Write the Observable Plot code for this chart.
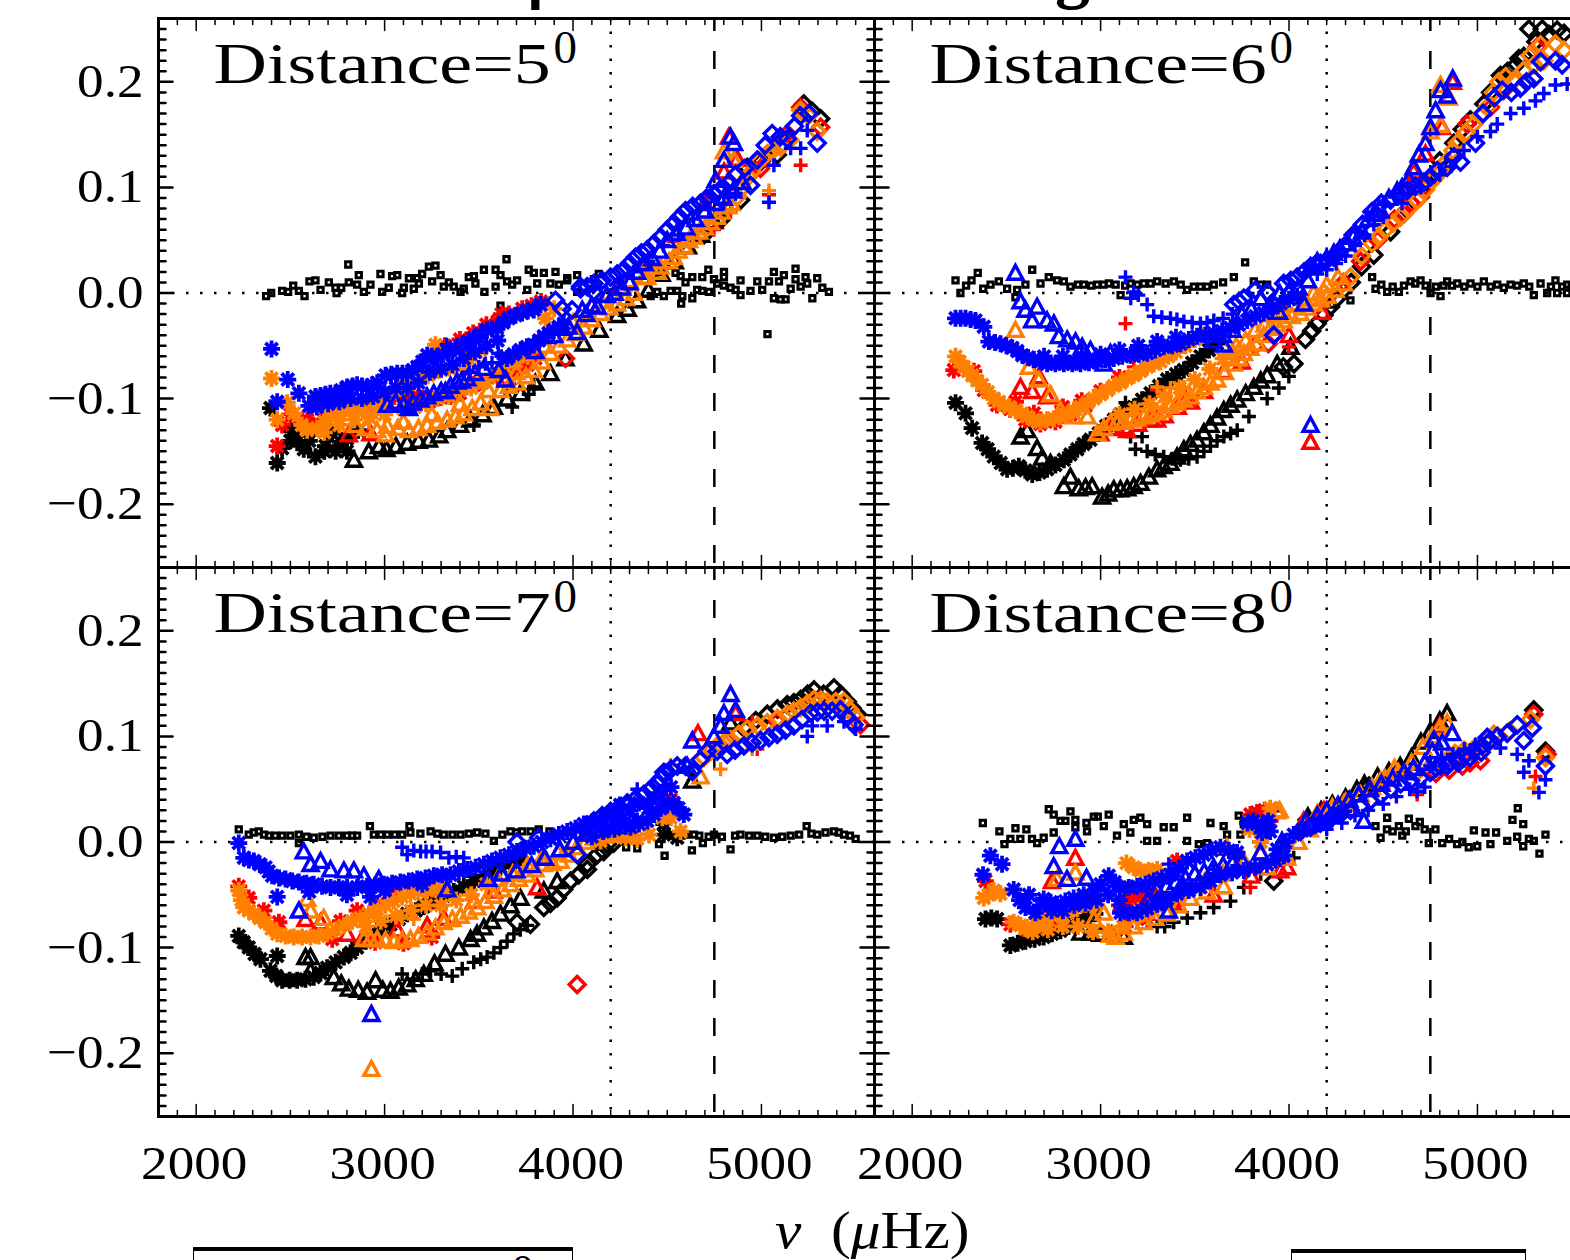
<!DOCTYPE html>
<html><head><meta charset="utf-8">
<script src="https://cdn.jsdelivr.net/npm/d3@7"></script>
<script src="https://cdn.jsdelivr.net/npm/@observablehq/plot@0.6"></script>
<style>
html,body{margin:0;padding:0;background:#fff;width:1570px;height:1260px;overflow:hidden}
#wrap{position:relative;width:1570px;height:1260px;overflow:hidden;font-family:"Liberation Serif",serif;color:#000}
#wrap svg{display:block;max-width:none}
.ov{position:absolute;white-space:pre;line-height:1}
.box{position:absolute;box-sizing:border-box;border-top:4px solid #000;border-left:1.5px solid #000;border-right:1.5px solid #000;height:40px}
</style></head><body><div id="wrap"></div>
<script>
const xMajor=[2000,3000,4000,5000];
const yMajor=[-0.2,-0.1,0,0.1,0.2];
const panelNames=["Distance=5","Distance=6","Distance=7","Distance=8"];
const yZero=[0], xDotted=[4200], xDashed=[4750];

// 5 degrees
const s5=[[2371,-.003],[2398,0],[2456,.002],[2488,.001],[2515,.007],[2545,.002],[2575,-.003],[2601,.011],[2633,.012],[2660,.003],[2704,.01],[2745,0],[2739,.005],[2770,.005],[2807,.027],[2810,.01],[2863,.017],[2854,.008],[2890,.001],[2925,.008],[2978,.018],[2987,.001],[3022,.005],[3040,.016],[3067,.017],[3093,0],[3102,.005],[3129,.014],[3155,.004],[3173,.014],[3182,.009],[3199,.018],[3235,.025],[3270,.026],[3252,.011],[3297,.017],[3314,.006],[3341,.01],[3367,.006],[3403,.001],[3420,.004],[3447,.015],[3474,.016],[3482,.009],[3527,.022],[3530,.001],[3589,.022],[3589,.006],[3615,.017],[3615,-.012],[3647,.032],[3650,.011],[3677,.008],[3703,.012],[3765,.022],[3757,.003],[3792,.019],[3845,.019],[3810,.009],[3907,.02],[3880,.009],[3925,.008],[3969,.014],[3969,.012],[4022,.017],[4022,.001],[4137,.018],[4111,.013],[4465,.015],[4544,.019],[4571,.016],[4597,.01],[4633,.015],[4686,.015],[4718,.022],[4801,.02],[4748,.013],[4801,.015],[4412,-.003],[4447,.001],[4482,-.003],[4518,.002],[4553,.002],[4574,-.01],[4580,-.003],[4633,-.005],[4659,.003],[4686,.002],[4721,.001],[4765,.009],[4801,.007],[4836,.005],[4863,.003],[4889,.012],[4889,-.002],[4942,.002],[4978,.011],[5004,.003],[5040,.011],[5066,.02],[5066,-.005],[5093,.011],[5102,-.006],[5128,-.006],[5119,.017],[5155,.004],[5181,.023],[5181,.013],[5208,.006],[5234,.015],[5243,.009],[5270,-.005],[5296,.014],[5323,.005],[5358,.001],[5032,-.039]];
const k5star=[[2430,-.161],[2394,-.109],[2456,-.147],[2509,-.131],[2571,-.148],[2633,-.155],[2686,-.145],[2722,-.133],[2766,-.141],[2800,-.138],[2860,-.13],[2600,-.14],[2500,-.14],[2540,-.14],[2680,-.15],[2740,-.15],[2800,-.15]];
const k5tri=[[2837,-.158],[2916,-.15],[3010,-.148],[3120,-.142],[3235,-.139],[3332,-.13],[3456,-.12],[3580,-.108],[3721,-.095],[3880,-.076],[4057,-.048],[4234,-.021],[4340,-.007],[2970,-.145],[3060,-.145],[3180,-.14],[3290,-.135],[3400,-.125],[3520,-.115],[3650,-.1],[3800,-.085],[3960,-.062],[4140,-.035],[4290,-.015],[4400,.003],[4470,.018],[4540,.03],[4610,.044],[4680,.055],[4750,.068]];
const k5plus=[[3677,-.108],[3474,-.125],[3765,-.096],[3792,-.089]];
const k5dia=[[4925,.119],[5084,.131],[5314,.165],[5225,.179],[4889,.088],[4783,.069],[4695,.055],[5270,.172],[5000,.125]];
const r5star=[[2430,-.145],[2456,-.125],[2589,-.12],[3261,-.101],[3367,-.096],[3474,-.087],[3721,-.07],[3440,-.05],[3510,-.038],[3620,-.02],[3730,-.015],[3830,-.008],[2500,-.115],[2560,-.122],[2620,-.125],[2680,-.12],[2750,-.115],[2850,-.107],[2950,-.105],[3050,-.098],[3100,-.098],[3150,-.098],[3200,-.1],[3300,-.099],[3350,-.098],[3400,-.095],[3500,-.085],[3600,-.08],[3680,-.074],[3760,-.068],[3800,-.062],[3320,-.05],[3400,-.044],[3470,-.038],[3540,-.03],[3600,-.027],[3660,-.02],[3780,-.012]];
const r5tri=[[2810,-.134],[2925,-.133],[3650,-.08],[4827,.148],[4872,.127],[4801,.115],[4100,-.012],[4250,.005],[4400,.03],[4550,.055],[4700,.085]];
const r5plus=[[5208,.121],[4748,.06],[4836,.077],[5040,.093]];
const r5dia=[[3960,-.062],[5208,.176],[5314,.157],[5137,.151],[4995,.118]];
const o5star=[[2400,-.081],[2483,-.104],[2430,-.12],[2518,-.114],[2589,-.13],[2642,-.128],[2680,-.122],[2713,-.117],[2750,-.114],[2784,-.111],[2820,-.111],[2854,-.111],[2900,-.11],[2943,-.109],[2990,-.102],[3040,-.095],[3080,-.09],[3120,-.087],[3155,-.084],[3191,-.081],[3230,-.078],[3260,-.075],[3300,-.073],[3270,-.049],[3341,-.071],[3380,-.07],[3420,-.067],[3465,-.06],[3509,-.054],[3540,-.05],[3854,-.024],[3900,-.015],[2560,-.125],[3100,-.11],[3160,-.108],[3220,-.105],[3280,-.1],[3340,-.098],[3400,-.092],[3460,-.09],[3520,-.085],[3580,-.078],[3640,-.07],[3700,-.065],[3760,-.06],[2680,-.132],[2760,-.125],[2840,-.12],[2920,-.118],[3000,-.115]];
const o5tri=[[2846,-.125],[3005,-.134],[3014,-.126],[3070,-.128],[3129,-.13],[3180,-.128],[3226,-.125],[3280,-.122],[3332,-.12],[3376,-.117],[3420,-.114],[3465,-.109],[3509,-.104],[3562,-.109],[3615,-.092],[3660,-.088],[3703,-.085],[3750,-.079],[3792,-.073],[3836,-.065],[3880,-.057],[3925,-.05],[3969,-.044],[4013,-.038],[4057,-.032],[4100,-.025],[4146,-.019],[4190,-.014],[4234,-.01],[4280,-.005],[4323,0],[4376,.015],[4394,.015],[4465,.025],[4535,.034],[4590,.044],[4642,.053],[4700,.062],[4765,.072],[4820,.082],[4854,.126],[4801,.134],[4450,.02],[4510,.03],[4560,.04],[4615,.05],[4670,.058],[4730,.067],[4790,.077],[4840,.085],[2900,-.128],[2960,-.13],[3100,-.122],[3250,-.115],[3400,-.105],[3550,-.092],[3700,-.075],[3850,-.05],[4000,-.028],[4150,-.008],[4300,.012],[4400,.028]];
const o5plus=[[5040,.097]];
const o5dia=[[4872,.091],[4950,.115],[5031,.132],[5102,.138],[5208,.173],[5296,.153],[5150,.145],[5250,.168],[4890,.098],[4930,.11],[4990,.125],[5060,.135]];
const b5star=[[2400,-.053],[2486,-.082],[2430,-.103],[2545,-.095],[2598,-.107],[2633,-.098],[2660,-.097],[2686,-.096],[2712,-.095],[2739,-.095],[2770,-.092],[2801,-.089],[2830,-.088],[2854,-.087],[2880,-.088],[2907,-.089],[2935,-.087],[2961,-.085],[3005,-.078],[3035,-.077],[3067,-.076],[3095,-.076],[3120,-.076],[3150,-.073],[3173,-.07],[3200,-.065],[3226,-.059],[3250,-.06],[3279,-.06],[3310,-.058],[3341,-.055],[3375,-.052],[3412,-.049],[3445,-.046],[3474,-.043],[3510,-.039],[3544,-.035],[3570,-.034],[3597,-.033],[3630,-.028],[3659,-.024],[3695,-.021],[3730,-.019],[3760,-.017],[3792,-.016],[3827,-.011],[3650,-.062],[3685,-.058],[3721,-.054],[3755,-.051],[3792,-.049],[3820,-.045],[3845,-.041],[3870,-.038],[3898,-.035],[3925,-.032],[3951,-.029],[2640,-.108],[2700,-.105],[2760,-.103],[2820,-.1],[2880,-.1],[2940,-.098],[3000,-.094],[3060,-.09],[3120,-.09],[3180,-.085],[3240,-.075],[3300,-.072],[3360,-.068],[3420,-.062],[3480,-.056],[3540,-.05],[3600,-.045]];
const b5tri=[[3014,-.106],[3058,-.103],[3129,-.109],[3191,-.101],[3261,-.095],[3323,-.093],[3385,-.084],[3438,-.081],[3527,-.071],[3606,-.073],[3642,-.082],[3863,-.041],[3942,-.033],[4022,-.037],[4049,-.016],[4100,-.012],[4180,-.002],[4260,.005],[4340,.02],[4420,.033],[4500,.05],[4836,.148],[4854,.142],[4801,.126],[4757,.107],[3100,-.106],[3150,-.104],[3225,-.098],[3300,-.093],[3350,-.088],[3410,-.083],[3480,-.076],[3800,-.055],[3900,-.04],[3975,-.032],[4070,-.02],[4130,-.013],[4220,0],[4300,.01],[4380,.028],[4460,.04],[4550,.057],[4600,.062],[4650,.07],[4700,.078],[4750,.085],[4800,.09],[4850,.097],[4900,.105]];
const b5plus=[[3329,-.049],[3603,-.057],[3535,-.067],[5208,.137],[5155,.137],[5066,.121],[5040,.086],[4863,.094],[5243,.154],[3261,-.071],[3450,-.075],[3500,-.07],[3570,-.066],[3620,-.06],[4250,.01],[4320,.02],[4400,.03],[4480,.045],[4560,.055],[4640,.07],[4720,.08],[4800,.085]];
const b5dia=[[3907,-.007],[3942,-.015],[3995,-.016],[4040,.006],[4110,.001],[4040,.004],[4075,.006],[4111,.009],[4155,.012],[4199,.015],[4235,.018],[4270,.022],[4300,.028],[4332,.034],[4363,.038],[4394,.041],[4430,.047],[4465,.053],[4500,.06],[4535,.066],[4565,.072],[4597,.078],[4635,.082],[4677,.085],[4710,.09],[4748,.094],[4775,.097],[4801,.099],[4830,.105],[4863,.112],[4942,.102],[4910,.118],[4978,.126],[5020,.14],[5057,.151],[5100,.148],[5137,.146],[5175,.158],[5208,.168],[5252,.17],[5296,.142]];

// 6 degrees
const s6=[[2230,.012],[2256,0],[2286,.007],[2315,.012],[2348,.019],[2377,.004],[2416,.008],[2460,.011],[2504,.004],[2548,-.004],[2557,.003],[2601,.008],[2637,.022],[2681,.009],[2725,.015],[2769,.012],[2805,.011],[2840,.006],[2880,.008],[2911,.008],[2950,.007],[2982,.008],[3015,.008],[3044,.009],[3080,.008],[3106,-.002],[3130,.007],[3159,.009],[3195,.008],[3229,.009],[3265,.009],[3300,.011],[3345,.009],[3389,.011],[3425,.008],[3459,.003],[3495,.006],[3530,.006],[3565,.006],[3601,.008],[3650,.01],[3707,.015],[3767,.029],[3813,.011],[3850,.008],[3884,.008],[4229,-.011],[4326,-.007],[4441,.015],[4459,.004],[4490,.008],[4521,.001],[4550,.006],[4583,.001],[4610,.007],[4645,.011],[4670,.009],[4698,.012],[4725,.007],[4751,0],[4780,.006],[4804,-.003],[4820,.007],[4839,.011],[4865,.007],[4893,.009],[4930,.006],[4963,.009],[5000,.006],[5034,.011],[5070,.006],[5105,.008],[5140,.005],[5176,.008],[5210,.007],[5246,.009],[5275,.006],[5299,-.002],[5335,.009],[5370,0],[5390,.006],[5414,.012],[5423,0],[5450,.006],[5476,.008],[5476,0],[5500,.005]];
const k6star=[[2230,-.104],[2283,-.114],[2318,-.128],[2371,-.142],[2400,-.148],[2433,-.155],[2470,-.161],[2504,-.167],[2535,-.166],[2566,-.164],[2600,-.168],[2637,-.172],[2676,-.17],[2716,-.167],[2760,-.163],[2805,-.158],[2840,-.153],[2876,-.148],[2910,-.143],[2946,-.139],[2990,-.133],[3030,-.126],[3070,-.12],[3106,-.115],[3140,-.111],[3176,-.108],[3220,-.101],[3265,-.095],[3310,-.088],[3353,-.082],[3400,-.077],[3442,-.073],[3486,-.066],[3530,-.06],[3575,-.054],[3618,-.048]];
const k6tri=[[2575,-.136],[2610,-.13],[2663,-.147],[2690,-.156],[2734,-.161],[2805,-.183],[2840,-.174],[2884,-.185],[2920,-.184],[2955,-.183],[3008,-.193],[3040,-.19],[3070,-.186],[3105,-.186],[3141,-.185],[3176,-.183],[3212,-.18],[3256,-.174],[3300,-.167],[3335,-.164],[3371,-.161],[3406,-.155],[3442,-.148],[3477,-.143],[3512,-.139],[3548,-.132],[3583,-.125],[3618,-.118],[3654,-.111],[3690,-.106],[3725,-.101],[3770,-.095],[3813,-.089],[3850,-.083],[3884,-.078],[3937,-.067],[4008,-.051]];
const k6plus=[[3132,-.104],[3220,-.136],[3159,-.136],[3185,-.148],[3247,-.15],[3290,-.153],[3335,-.155],[3380,-.157],[3424,-.158],[3468,-.157],[3512,-.155],[3548,-.15],[3583,-.145],[3618,-.14],[3654,-.136],[3690,-.133],[3725,-.13],[3787,-.117],[3884,-.1],[3946,-.09],[3999,-.079]];
const k6dia=[[3970,-.07],[4026,-.067],[4087,-.044],[4120,-.036],[4149,-.029],[4185,-.021],[4220,-.013],[4255,-.005],[4291,.003],[4330,.01],[4385,.025],[4450,.036],[4539,.058],[4627,.079],[4733,.105],[4875,.142],[4963,.164],[5034,.179],[5122,.206],[5193,.214],[5246,.224],[5273,.25],[5344,.25],[5423,.249],[5459,.246],[5310,.238],[5380,.245],[5070,.19],[5160,.21],[5220,.222],[4800,.125],[4920,.155]];
const r6star=[[2221,-.073],[2327,-.074],[2380,-.092],[2548,-.103],[2646,-.114],[2999,-.093],[2900,-.102],[2800,-.108],[3100,-.08],[2450,-.106],[2520,-.11],[2600,-.12],[2680,-.124],[2760,-.122],[2840,-.115],[2920,-.107]];
const r6tri=[[2575,-.089],[2637,-.093],[2672,-.079],[2716,-.098],[2999,-.133],[3141,-.13],[3300,-.12],[3450,-.1],[3654,-.074],[4176,-.018],[4114,-.141],[4724,.132],[4662,.115],[4636,.1],[4813,.157],[4869,.2],[3050,-.128],[3130,-.127],[3200,-.124],[3270,-.12],[3340,-.116],[3410,-.108],[3480,-.103],[3550,-.093],[3750,-.065],[4000,-.04]];
const r6plus=[[3132,-.029],[3176,-.07],[3442,-.09],[3300,-.092],[3999,-.051]];
const r6dia=[[3919,-.04],[3820,-.05],[3890,-.048],[4609,.075],[4698,.091],[4945,.16],[5069,.176],[5140,.192],[5317,.233],[4200,-.005],[4290,.01],[4380,.03],[4470,.05],[4560,.07],[4650,.085],[4720,.1]];
const o6star=[[2230,-.06],[2252,-.065],[2274,-.07],[2296,-.074],[2318,-.078],[2345,-.083],[2371,-.087],[2402,-.094],[2433,-.1],[2460,-.103],[2486,-.106],[2517,-.108],[2548,-.111],[2580,-.114],[2610,-.117],[2645,-.12],[2681,-.122],[2716,-.12],[2752,-.119],[2787,-.117],[2823,-.115],[2858,-.111],[2893,-.108],[2930,-.104],[2964,-.1],[3000,-.096],[3035,-.092],[3070,-.088],[3106,-.085],[3140,-.081],[3176,-.078],[3212,-.074],[3247,-.07],[3283,-.067],[3318,-.065],[3360,-.06],[3400,-.056],[3450,-.05],[3500,-.044],[3550,-.04],[3100,-.115],[3180,-.11],[3260,-.105],[3340,-.098],[3420,-.09],[3500,-.082],[3580,-.072],[3650,-.062],[3700,-.055]];
const o6tri=[[2548,-.035],[2619,-.07],[2672,-.082],[2734,-.096],[2787,-.111],[2858,-.117],[2929,-.117],[2982,-.133],[3017,-.128],[3052,-.123],[3088,-.122],[3123,-.122],[3160,-.12],[3194,-.119],[3230,-.117],[3265,-.115],[3300,-.113],[3335,-.111],[3370,-.107],[3406,-.104],[3440,-.101],[3477,-.098],[3512,-.093],[3548,-.089],[3583,-.085],[3618,-.082],[3660,-.075],[3707,-.067],[3735,-.062],[3760,-.057],[3795,-.052],[3831,-.048],[3865,-.04],[3902,-.033],[3937,-.03],[3972,-.026],[4015,-.022],[4061,-.019],[4097,-.014],[4132,-.01],[4168,-.006],[4203,-.003],[4247,.003],[4291,.009],[4804,.197],[4848,.185],[4804,.159],[4751,.153],[4662,.119],[3680,-.06],[3720,-.05],[3770,-.045],[3820,-.035],[3870,-.03],[3920,-.02],[3970,-.018],[4020,-.01],[4080,-.005],[4130,0],[4200,.008],[4260,.015]];
const o6plus=[[3300,-.089],[3371,-.09],[3442,-.089]];
const o6dia=[[4185,0],[4326,.015],[4441,.047],[4476,.053],[4512,.06],[4552,.066],[4592,.072],[4636,.08],[4680,.088],[4725,.098],[4769,.108],[4805,.115],[4839,.125],[4870,.135],[4893,.142],[4940,.152],[4981,.16],[5015,.168],[5052,.176],[5085,.19],[5114,.2],[5193,.201],[5246,.211],[5300,.216],[5352,.22],[5335,.235],[5414,.236],[5459,.23],[5150,.205],[5280,.225],[4385,.035]];
const b6star=[[2230,-.024],[2257,-.024],[2283,-.024],[2310,-.025],[2336,-.026],[2380,-.032],[2407,-.046],[2440,-.047],[2469,-.048],[2500,-.05],[2531,-.052],[2558,-.055],[2584,-.059],[2615,-.061],[2646,-.063],[2680,-.065],[2716,-.067],[2760,-.067],[2805,-.067],[2850,-.067],[2893,-.067],[2938,-.066],[2982,-.065],[3026,-.063],[3070,-.062],[3115,-.06],[3159,-.059],[3203,-.058],[3247,-.057],[3290,-.054],[3335,-.051],[3380,-.05],[3424,-.048],[3468,-.044],[3512,-.041],[3556,-.04],[3601,-.038],[3645,-.036],[3689,-.033],[3733,-.03],[3778,-.026],[3822,-.022],[3866,-.019],[3910,-.014],[3955,-.01],[4000,-.006],[4043,-.003],[2700,-.06],[2800,-.06],[2900,-.06],[3000,-.058],[3100,-.054],[3200,-.05],[3300,-.046],[3400,-.042]];
const b6tri=[[2548,.019],[2575,-.008],[2601,-.016],[2663,-.013],[2637,-.026],[2716,-.026],[2752,-.029],[2778,-.041],[2823,-.044],[2867,-.046],[2902,-.051],[2946,-.054],[3017,-.067],[3052,-.057],[3654,-.049],[3946,-.018],[4079,-.01],[4114,-.125],[4114,.025],[4238,.038],[4309,.047],[4388,.058],[4450,.075],[4574,.097],[4636,.108],[4662,.119],[4689,.131],[4724,.142],[4751,.157],[4778,.173],[4804,.192],[4839,.187],[4869,.203],[3600,-.045],[3650,-.04],[3700,-.035],[3750,-.02],[3800,-.015],[3850,-.005],[3900,-.012],[3950,0],[4000,.002],[4050,.005],[4100,.012],[4150,.03],[4200,.033],[4270,.042],[4340,.053],[4420,.07],[4480,.08],[4530,.09],[4600,.1]];
const b6plus=[[3132,.015],[3176,.001],[3160,-.005],[3200,-.002],[3247,-.011],[3282,-.022],[3325,-.023],[3371,-.024],[3405,-.025],[3442,-.027],[3486,-.028],[3530,-.029],[3565,-.028],[3601,-.026],[3650,-.024],[3700,-.02],[4928,.135],[5000,.148],[5069,.153],[5105,.16],[5176,.17],[5246,.175],[5308,.182],[5352,.189],[5414,.197],[5476,.198],[4150,.018],[4200,.022],[4250,.028],[4300,.035],[4350,.045],[4400,.055],[4450,.065],[4500,.072],[4600,.085],[4700,.1],[4800,.112],[4860,.12]];
const b6dia=[[3707,-.011],[3735,-.008],[3760,-.005],[3822,.003],[3884,.001],[3919,-.04],[3972,.009],[4010,.012],[4043,.015],[4080,.02],[4114,.025],[4140,.027],[4167,.028],[4200,.031],[4238,.034],[4265,.039],[4291,.044],[4340,.055],[4390,.065],[4440,.077],[4490,.085],[4539,.088],[4585,.093],[4627,.097],[4670,.101],[4716,.105],[4750,.11],[4786,.116],[4839,.119],[4875,.129],[4910,.124],[4990,.142],[5030,.17],[5090,.185],[5131,.192],[5180,.19],[5228,.194],[5260,.2],[5299,.203],[5335,.219],[5414,.22],[5450,.216]];

// 7 degrees
const s7=[[2226,.012],[2279,.007],[2305,.009],[2332,.01],[2360,.007],[2386,.006],[2420,.006],[2456,.006],[2500,.006],[2545,.007],[2545,-.001],[2585,.005],[2624,.004],[2670,.005],[2713,.006],[2757,.006],[2801,.006],[2828,.006],[2854,.006],[2922,.015],[2943,.007],[2980,.007],[3014,.007],[3054,.007],[3093,.007],[3132,.015],[3137,.009],[3190,.008],[3244,.01],[3280,.008],[3314,.007],[3360,.007],[3403,.007],[3447,.008],[3491,.009],[3535,.008],[3580,.001],[3625,.007],[3668,.01],[3700,.009],[3730,.01],[3775,.01],[3818,.012],[3875,.01],[3933,.007],[4282,-.005],[4341,-.006],[4456,-.002],[4486,-.013],[4631,-.008],[4689,-.001],[4720,.005],[4748,.007],[4790,.005],[4836,-.007],[4860,.006],[4889,.007],[4935,.006],[4978,.006],[5020,.005],[5066,.004],[5110,.005],[5155,.006],[5200,.007],[5240,.015],[5265,.008],[5296,.007],[5340,.009],[5385,.01],[5410,.009],[5438,.007],[5470,.006],[5500,.003],[4500,.007],[4544,.006],[4600,.007],[4642,.007],[4670,.006]];
const k7star=[[2226,-.089],[2252,-.095],[2279,-.1],[2310,-.106],[2341,-.111],[2430,-.108],[2394,-.122],[2425,-.127],[2456,-.131],[2496,-.131],[2536,-.131],[2580,-.13],[2624,-.128],[2660,-.124],[2695,-.119],[2740,-.114],[2784,-.109],[2820,-.105],[2854,-.1],[2900,-.094],[2943,-.087],[2987,-.082],[3031,-.078],[3075,-.073],[3120,-.068],[3165,-.065],[3208,-.061],[3260,-.056],[3314,-.051],[3367,-.047],[3420,-.042],[3475,-.037],[3527,-.032],[3571,-.028],[3615,-.024],[3668,-.02],[3721,-.015],[4482,.017],[4482,.007],[4553,.004]];
const k7tri=[[2580,-.109],[2607,-.109],[2607,-.122],[2730,-.128],[2770,-.134],[2810,-.139],[2860,-.14],[2907,-.142],[2952,-.131],[2990,-.14],[3031,-.141],[3075,-.138],[3120,-.135],[3165,-.13],[3208,-.125],[3265,-.115],[3323,-.106],[3394,-.1],[3456,-.092],[3490,-.087],[3527,-.081],[3570,-.075],[3615,-.068],[3668,-.06],[3721,-.053],[3845,-.046],[3916,-.037],[4633,.058],[4836,.113]];
const k7plus=[[3093,-.125],[3155,-.13],[3200,-.125],[3244,-.122],[3300,-.125],[3359,-.127],[3412,-.12],[3473,-.114],[3510,-.111],[3544,-.109],[3580,-.105],[3615,-.1],[3650,-.094],[3686,-.087],[3720,-.083],[3757,-.079]];
const k7dia=[[3703,-.076],[3774,-.078],[3845,-.062],[3880,-.058],[3916,-.053],[3950,-.045],[3987,-.037],[4030,-.031],[4076,-.026],[4076,-.021],[4129,-.012],[4163,-.009],[4182,-.002],[4216,-.001],[4907,.108],[4970,.115],[5031,.121],[5085,.126],[5137,.13],[5172,.132],[5208,.135],[5245,.14],[5279,.144],[5330,.14],[5385,.146],[5420,.14],[5455,.133],[5480,.127],[5508,.121]];
const r7star=[[2226,-.042],[2279,-.053],[2359,-.065],[2439,-.076],[2722,-.092],[2766,-.075],[2854,-.065],[2961,-.059],[3049,-.051],[3140,-.044],[3230,-.04],[2950,-.095],[3100,-.096],[3250,-.09]];
const r7tri=[[2580,-.073],[2660,-.076],[2801,-.087],[2890,-.089],[3067,-.083],[3226,-.079],[3314,-.072],[3474,-.056],[3580,-.046],[3810,-.043],[4663,.103],[4863,.122]];
const r7plus=[[3297,-.062],[4951,.114],[4978,.088],[4518,.044]];
const r7dia=[[4022,-.135],[4818,.096],[5084,.114],[5314,.135],[5526,.111]];
const o7star=[[2226,-.046],[2240,-.055],[2253,-.062],[2280,-.065],[2306,-.068],[2337,-.072],[2368,-.076],[2400,-.082],[2430,-.087],[2475,-.089],[2518,-.09],[2562,-.09],[2607,-.09],[2650,-.089],[2695,-.087],[2740,-.083],[2784,-.079],[2828,-.075],[2872,-.072],[2916,-.068],[2961,-.064],[3005,-.06],[3049,-.056],[3093,-.052],[3137,-.049],[3180,-.047],[3226,-.046],[3270,-.045],[3314,-.045],[4217,.007],[4279,.004],[4341,.003],[4403,.007],[4474,.023],[4518,.023],[4571,.01],[4146,.001],[2900,-.08],[2980,-.075],[3060,-.07],[3140,-.065],[3220,-.06],[3300,-.06],[3380,-.055],[3460,-.05],[3540,-.04]];
const o7tri=[[2589,-.054],[2607,-.065],[2677,-.072],[2890,-.092],[2925,-.092],[2961,-.092],[3005,-.093],[3049,-.094],[3093,-.093],[3137,-.092],[3180,-.089],[3226,-.086],[3270,-.081],[3314,-.076],[3360,-.073],[3403,-.07],[3447,-.066],[3491,-.062],[3535,-.056],[3580,-.051],[3625,-.045],[3668,-.04],[3712,-.035],[3757,-.031],[3800,-.026],[3845,-.021],[3890,-.02],[3933,-.018],[3978,-.012],[4022,-.005],[4066,0],[4110,.004],[4165,.006],[4216,.007],[4677,.062],[4863,.125],[2930,-.215],[3600,-.035],[3680,-.03],[3760,-.022],[3840,-.014],[3920,-.01]];
const o7plus=[[3093,-.072],[3155,-.073],[4518,.073],[4783,.069],[4951,.088]];
const o7dia=[[4695,.08],[4730,.086],[4765,.091],[4800,.094],[4836,.097],[4880,.102],[4925,.107],[4980,.11],[5031,.113],[5085,.117],[5137,.121],[5172,.124],[5208,.127],[5245,.131],[5279,.135],[5315,.134],[5349,.133],[5395,.133],[5438,.133],[5470,.125],[5500,.118]];
const b7star=[[2226,-.001],[2253,-.015],[2280,-.017],[2306,-.018],[2337,-.021],[2368,-.024],[2385,-.028],[2403,-.032],[2440,-.034],[2474,-.035],[2510,-.037],[2545,-.038],[2585,-.039],[2624,-.04],[2668,-.042],[2713,-.043],[2757,-.043],[2801,-.043],[2855,-.043],[2907,-.042],[2950,-.041],[2996,-.04],[3040,-.039],[3084,-.038],[3128,-.037],[3173,-.035],[3217,-.034],[3261,-.032],[3305,-.031],[3350,-.031],[3394,-.028],[3438,-.026],[3483,-.024],[3527,-.021],[3570,-.018],[3615,-.015],[3660,-.012],[3703,-.009],[3748,-.006],[3792,-.004],[3835,0],[3880,.003],[3925,.007],[3969,.01],[4013,.013],[4057,.017],[4100,.019],[4146,.021],[4180,.024],[4216,.028],[2430,-.052],[2925,-.052],[4217,.026],[4260,.022],[4305,.014],[4350,.017],[4394,.02],[4430,.026],[4465,.032],[4500,.035],[4535,.037],[4560,.032],[4588,.026],[4100,.005],[4160,.01],[4220,.012],[4280,.015],[4340,.02],[4400,.032],[4460,.045],[4520,.052],[4250,.035],[4300,.03],[4350,.037],[4420,.04],[2600,-.047],[2800,-.05],[3000,-.046],[3200,-.04]];
const b7tri=[[2571,-.009],[2607,-.021],[2660,-.018],[2713,-.026],[2784,-.027],[2837,-.027],[2890,-.032],[2969,-.035],[2545,-.065],[3332,-.045],[2930,-.163],[4633,.096],[4748,.1],[4606,.072],[4783,.11],[4801,.122],[4836,.14],[4863,.125],[3550,-.035],[3620,-.03],[3700,-.027],[3780,-.022],[3850,-.015],[3930,-.007],[4000,0],[4080,.008],[4150,.012],[4220,.015]];
const b7plus=[[3093,-.005],[3120,-.012],[3155,-.008],[3191,-.009],[3220,-.009],[3252,-.009],[3297,-.01],[3341,-.015],[3380,-.014],[3420,-.015],[4341,.05],[5243,.1],[5270,.11],[5349,.11],[5438,.114],[5500,.107]];
const b7dia=[[3703,0],[3818,.004],[4022,-.012],[4022,.01],[4066,.015],[4111,.02],[4155,.025],[4199,.029],[4244,.033],[4288,.037],[4332,.041],[4376,.045],[4410,.05],[4447,.055],[4465,.06],[4482,.066],[4520,.069],[4553,.072],[4597,.072],[4633,.067],[4675,.078],[4712,.086],[4765,.086],[4818,.083],[4860,.087],[4907,.091],[4950,.094],[4995,.096],[5040,.099],[5084,.102],[5128,.106],[5172,.11],[5215,.116],[5261,.122],[5297,.123],[5332,.124],[5375,.124],[5420,.125],[5455,.118],[5491,.111]];

// 8 degrees
const s8=[[2375,.018],[2463,.01],[2490,-.002],[2521,.003],[2548,.013],[2574,.003],[2606,.012],[2636,.003],[2663,-.001],[2698,.004],[2725,.031],[2751,.026],[2751,.009],[2787,.02],[2813,.02],[2840,.029],[2866,.021],[2866,.014],[2925,.018],[2964,.024],[2985,.024],[3043,.026],[3017,.015],[2928,.01],[3087,.006],[3123,.017],[3176,.021],[3211,.023],[3158,.009],[3247,.017],[3247,.001],[3300,.001],[3335,.014],[3388,.014],[3459,.023],[3459,.001],[3521,-.002],[3565,-.001],[3583,.018],[3653,.015],[3671,.007],[3733,.025],[3760,.017],[3848,.031],[3936,.032],[3742,.007],[4459,.015],[4521,.023],[4486,.004],[4583,.015],[4636,.022],[4601,.006],[4694,.019],[4671,.015],[4777,.012],[4742,-.001],[4813,-.001],[4892,-.002],[4954,-.005],[4981,.011],[4999,-.004],[5043,.009],[5099,.009],[5069,-.002],[5158,.001],[5186,.021],[5214,.032],[5243,.017],[5211,.005],[5243,-.004],[5273,.003],[5299,.001],[5329,-.011],[5361,.007],[4520,.012],[4550,.01],[4620,.01],[4720,.012],[4850,.003],[4920,0]];
const k8star=[[2389,-.073],[2420,-.072],[2451,-.073],[2521,-.098],[2560,-.096],[2601,-.094],[2650,-.092],[2698,-.09],[2742,-.087],[2787,-.084],[2830,-.08],[2875,-.076],[2925,-.07],[2970,-.068]];
const k8tri=[[2893,-.086],[2945,-.086],[2999,-.087],[3060,-.088],[3123,-.09],[4424,.05],[4839,.122],[4100,.024],[4170,.03],[4230,.036],[4300,.042],[4360,.05],[4400,.055],[4470,.062],[4530,.067],[4590,.072],[4650,.08],[4700,.095],[4750,.105],[4800,.115]];
const k8plus=[[3300,-.08],[3340,-.08],[3388,-.076],[3460,-.072],[3530,-.067],[3600,-.062],[3689,-.056],[3760,-.043],[3850,-.03],[4025,-.015]];
const k8dia=[[3919,-.037],[4096,.021],[4291,.036],[4424,.053],[4592,.067],[5299,.125],[5361,.086]];
const r8star=[[2389,-.037],[2521,-.078],[2610,-.083],[2787,-.076],[3158,-.053],[3194,-.049],[3247,-.073],[3406,-.018],[3795,.026],[3830,.028],[3870,.03],[3900,.02],[3100,-.06],[3130,-.06],[3230,-.055],[3270,-.05],[3130,-.08],[3400,-.06]];
const r8tri=[[2866,-.015],[2742,-.037],[3441,-.042],[3954,-.027],[3990,-.024],[4078,.02],[4185,.03],[4486,.058],[4800,.11],[3600,-.05],[3800,-.032]];
const r8plus=[[3795,-.043],[4680,.045],[5308,.062]];
const r8dia=[[5016,.077],[5299,.121],[5370,.083],[4780,.065],[4850,.068],[4920,.072],[4960,.075]];
const o8star=[[2380,-.053],[2405,-.05],[2433,-.046],[2468,-.049],[2539,-.076],[2575,-.079],[2610,-.081],[2655,-.077],[2698,-.073],[2742,-.07],[2787,-.068],[2830,-.064],[2875,-.061],[2920,-.059],[2964,-.057],[3137,-.02],[3175,-.024],[3211,-.027],[3255,-.027],[3300,-.026],[2600,-.082],[2700,-.078],[2800,-.07],[2850,-.065],[2950,-.06],[3790,.012],[3850,0],[3900,.032],[2640,-.085],[2720,-.083],[2800,-.08],[2880,-.08],[2960,-.085],[3040,-.085],[3120,-.08],[3200,-.07],[3280,-.065]];
const o8tri=[[2866,-.029],[2769,-.035],[2964,-.073],[3017,-.067],[3123,-.086],[3175,-.08],[3229,-.076],[3290,-.072],[3353,-.068],[3415,-.06],[3477,-.053],[3565,-.047],[3653,-.042],[3671,-.005],[3760,-.02],[3883,-.024],[3936,.029],[3990,-.015],[4050,0],[4110,.012],[4184,.026],[4290,.036],[4380,.045],[4486,.058],[4560,.07],[4839,.113],[3080,-.09],[3050,-.088],[3950,.03],[4150,.027],[4230,.033],[4300,.038],[4370,.045],[4440,.052],[4510,.06],[4580,.066],[4650,.075],[4710,.09],[4760,.1],[4800,.108],[3350,-.055],[3450,-.045],[3550,-.038],[3650,-.03],[3750,-.015],[3850,-.01]];
const o8plus=[[5299,.051]];
const o8dia=[[4680,.066],[4760,.073],[4850,.08],[4880,.084],[4930,.087],[4990,.09],[5050,.095],[5087,.102],[5110,.1],[5170,.105],[5281,.116],[5361,.08]];
const b8star=[[2376,-.031],[2415,-.013],[2477,-.021],[2539,-.045],[2570,-.055],[2601,-.062],[2654,-.067],[2698,-.054],[2735,-.057],[2769,-.059],[2813,-.056],[2857,-.053],[2910,-.05],[2964,-.046],[3000,-.04],[3043,-.032],[3075,-.038],[3105,-.043],[3150,-.043],[3194,-.042],[3238,-.04],[3282,-.037],[3326,-.034],[3370,-.031],[3415,-.025],[3459,-.018],[3503,-.015],[3547,-.012],[3590,-.008],[3636,-.005],[3680,-.008],[3724,-.01],[3830,.017],[3857,.009],[3936,-.007],[3980,0],[4025,.007],[4070,.011],[4113,.014],[4158,.017],[4202,.02],[4245,.025],[4290,.029],[3105,-.067],[3150,-.067],[3194,-.067],[3247,-.063],[3300,-.059],[3353,-.054],[3406,-.049],[3468,-.046],[3530,-.043],[3583,-.037],[3636,-.031],[3698,-.029],[3760,-.027],[3820,-.024],[3883,-.021],[3927,-.017],[3972,-.013],[3780,.018],[3810,.02],[3860,.015],[3890,.02],[3900,.01],[2620,-.05],[2680,-.06],[2740,-.065],[2800,-.065],[2860,-.06],[2920,-.058],[2980,-.055],[3040,-.05],[3100,-.055]];
const b8tri=[[2781,-.004],[2866,.003],[2751,-.023],[2822,-.035],[2925,-.034],[3362,-.065],[3300,-.056],[3441,-.043],[3848,-.01],[3963,.001],[4397,.02],[4760,.086],[4769,.097],[4813,.094],[4866,.103],[3250,-.055],[3300,-.045],[3350,-.042],[3400,-.038],[3450,-.034],[3500,-.03],[3550,-.028],[3600,-.024],[3650,-.022],[3700,-.02],[3750,-.018],[4090,.02],[4150,.025],[4200,.03],[4260,.035],[4320,.04],[4370,.045],[4430,.05],[4490,.055],[4550,.06],[4610,.066],[4660,.07],[4720,.075]];
const b8plus=[[3362,-.021],[3600,-.026],[4680,.048],[4981,.088],[5122,.089],[5211,.083],[5273,.077],[5246,.066],[5361,.059],[5326,.047],[4200,.012],[4280,.018],[4350,.025],[4420,.03],[4500,.036],[4570,.043],[4640,.05],[4720,.052],[4750,.072],[4810,.08],[4870,.083],[4930,.088],[4990,.092]];
const b8dia=[[4061,.01],[4115,.014],[4167,.018],[4220,.022],[4273,.026],[4326,.03],[4379,.034],[4432,.039],[4486,.044],[4540,.05],[4592,.055],[4645,.058],[4698,.061],[4750,.066],[4804,.072],[4850,.075],[4892,.078],[4935,.082],[4981,.086],[5025,.091],[5069,.096],[5052,.099],[5105,.1],[5158,.103],[5211,.111],[5246,.096],[5291,.108],[5361,.072],[4780,.07],[4840,.072],[4900,.075],[4960,.08],[5020,.085]];

const colours={k:"#000000",r:"#ff0000",o:"#ff7f00",b:"#0000ff"};
const symbolDraw={
  square:{draw(c,s){const h=Math.sqrt(s/Math.PI)*.38;c.moveTo(-h,-h);c.lineTo(h,-h);c.lineTo(h,h);c.lineTo(-h,h);c.closePath();}},
  star:{draw(c,s){const h=Math.sqrt(s/Math.PI),d=h*.72;c.moveTo(-h,0);c.lineTo(h,0);c.moveTo(0,-h);c.lineTo(0,h);c.moveTo(-d,-d);c.lineTo(d,d);c.moveTo(-d,d);c.lineTo(d,-d);}},
  tri:{draw(c,s){const h=Math.sqrt(s/Math.PI);c.moveTo(0,-h);c.lineTo(h,h*.85);c.lineTo(-h,h*.85);c.closePath();}},
  plus:{draw(c,s){const h=Math.sqrt(s/Math.PI);c.moveTo(-h,0);c.lineTo(h,0);c.moveTo(0,-h);c.lineTo(0,h);}},
  dia:{draw(c,s){const h=Math.sqrt(s/Math.PI);c.moveTo(0,-h);c.lineTo(h,0);c.lineTo(0,h);c.lineTo(-h,0);c.closePath();}}
};
const cell={5:[0,0],6:[1,0],7:[0,1],8:[1,1]};
const table=[
 [5,"k","square",s5],[6,"k","square",s6],[7,"k","square",s7],[8,"k","square",s8],
 [5,"k","star",k5star],[5,"k","tri",k5tri],[5,"k","plus",k5plus],[5,"k","dia",k5dia],
 [5,"r","star",r5star],[5,"r","tri",r5tri],[5,"r","plus",r5plus],[5,"r","dia",r5dia],
 [5,"o","star",o5star],[5,"o","tri",o5tri],[5,"o","plus",o5plus],[5,"o","dia",o5dia],
 [5,"b","star",b5star],[5,"b","tri",b5tri],[5,"b","plus",b5plus],[5,"b","dia",b5dia],
 [6,"k","star",k6star],[6,"k","tri",k6tri],[6,"k","plus",k6plus],[6,"k","dia",k6dia],
 [6,"r","star",r6star],[6,"r","tri",r6tri],[6,"r","plus",r6plus],[6,"r","dia",r6dia],
 [6,"o","star",o6star],[6,"o","tri",o6tri],[6,"o","plus",o6plus],[6,"o","dia",o6dia],
 [6,"b","star",b6star],[6,"b","tri",b6tri],[6,"b","plus",b6plus],[6,"b","dia",b6dia],
 [7,"k","star",k7star],[7,"k","tri",k7tri],[7,"k","plus",k7plus],[7,"k","dia",k7dia],
 [7,"r","star",r7star],[7,"r","tri",r7tri],[7,"r","plus",r7plus],[7,"r","dia",r7dia],
 [7,"o","star",o7star],[7,"o","tri",o7tri],[7,"o","plus",o7plus],[7,"o","dia",o7dia],
 [7,"b","star",b7star],[7,"b","tri",b7tri],[7,"b","plus",b7plus],[7,"b","dia",b7dia],
 [8,"k","star",k8star],[8,"k","tri",k8tri],[8,"k","plus",k8plus],[8,"k","dia",k8dia],
 [8,"r","star",r8star],[8,"r","tri",r8tri],[8,"r","plus",r8plus],[8,"r","dia",r8dia],
 [8,"o","star",o8star],[8,"o","tri",o8tri],[8,"o","plus",o8plus],[8,"o","dia",o8dia],
 [8,"b","star",b8star],[8,"b","tri",b8tri],[8,"b","plus",b8plus],[8,"b","dia",b8dia]
];
const dotMarks=table.map(([deg,col,sym,data])=>Plot.dot(data,{
  x:d=>d[0],y:d=>d[1],fx:()=>cell[deg][0],fy:()=>cell[deg][1],
  symbol:symbolDraw[sym],r:sym==="square"?7:sym==="tri"?7.5:sym==="dia"?8:sym==="star"?8.5:7,
  fill:"none",stroke:colours[col],strokeWidth:sym==="square"?3:sym==="star"?3.8:3.4
}));
const lineTick={draw(c,l){c.moveTo(0,0);c.lineTo(0,-l);}};
const xMinor=d3.range(1800,5601,100).filter(v=>!xMajor.includes(v));
const yMinor=d3.range(-26,27).map(v=>v/100).filter(v=>!yMajor.some(m=>Math.abs(m-v)<1e-6));
const tick=(vals,dim,anchor,rot,len,sw)=>Plot.vector(vals,{[dim]:d=>d,frameAnchor:anchor,rotate:rot,length:len,anchor:"start",shape:lineTick,stroke:"#000",strokeWidth:sw});
const labels=panelNames.map((t,i)=>({t,c:i%2,r:i>>1}));
const font="Liberation Serif";
const chart=Plot.plot({
  width:1570,height:1260,marginLeft:158,marginRight:-20,marginTop:18,marginBottom:144,
  style:{background:"#fff",overflow:"hidden"},
  x:{domain:[1800,5600],label:null},
  y:{domain:[-0.26,0.26],label:null},
  fx:{domain:[0,1],padding:0,axis:null,label:null},
  fy:{domain:[0,1],padding:0,axis:null,label:null},
  marks:[
    Plot.ruleY(yZero,{stroke:"#000",strokeWidth:2.5,strokeDasharray:"2.5,11.5"}),
    Plot.ruleX(xDotted,{stroke:"#000",strokeWidth:2.5,strokeDasharray:"2.5,11"}),
    Plot.ruleX(xDashed,{stroke:"#000",strokeWidth:2.5,strokeDasharray:"18,20",strokeDashoffset:5}),
    ...dotMarks,
    tick(xMajor,"x","bottom",0,12,1.5),tick(xMinor,"x","bottom",0,6,1.5),
    tick(xMajor,"x","top",180,12,1.5),tick(xMinor,"x","top",180,6,1.5),
    tick(yMajor,"y","left",90,14,2.5),tick(yMinor,"y","left",90,7,2.5),
    tick(yMajor,"y","right",270,14,2.5),tick(yMinor,"y","right",270,7,2.5),
    Plot.frame({stroke:"#000",strokeWidth:3}),
    Plot.axisX(xMajor,{anchor:"bottom",tickSize:0,tickPadding:29,dx:-2,fontSize:47,fontFamily:font,tickFormat:d=>String(d),label:null}),
    Plot.axisY(yMajor,{anchor:"left",tickSize:0,tickPadding:15,fontSize:47,fontFamily:font,tickFormat:d=>d3.format(".1f")(d),label:null}),
    Plot.text(labels,{fx:d=>d.c,fy:d=>d.r,text:d=>d.t,frameAnchor:"top-left",dx:55,dy:64,lineAnchor:"bottom",fontSize:56,fontFamily:font,fill:"#000"}),
    Plot.text(labels,{fx:d=>d.c,fy:d=>d.r,text:()=>"0",frameAnchor:"top-left",dx:395,dy:44,lineAnchor:"bottom",fontSize:47,fontFamily:font,fill:"#000"})
  ]
});
const wrap=document.getElementById("wrap");
wrap.appendChild(chart);
chart.querySelectorAll("text").forEach(t=>{
  const s=t.textContent;
  const f=s.startsWith("Distance")?1.32:(s==="0"?1:1.13);
  if(f!==1){t.setAttribute("textLength",(t.getComputedTextLength()*f).toFixed(1));t.setAttribute("lengthAdjust","spacingAndGlyphs");}
});
function ov(html,left,top,css){const e=document.createElement("div");e.className="ov";e.innerHTML=html;e.style.left=left+"px";e.style.top=top+"px";e.style.cssText+=css;wrap.appendChild(e);return e;}
ov("p",527,-52,"font-size:60px;font-weight:bold;font-family:'Liberation Sans'");
ov("g",1055,-63,"font-size:70px;font-weight:bold");
ov("<i>ν</i>  (<i>μ</i>Hz)",775,1204,"font-size:53px;transform:scaleX(1.12);transform-origin:left");
const b1=document.createElement("div");b1.className="box";b1.style.cssText="left:193px;top:1246.5px;width:380px";wrap.appendChild(b1);
const b2=document.createElement("div");b2.className="box";b2.style.cssText="left:1291px;top:1249px;width:235px";wrap.appendChild(b2);
ov("0",511,1248,"font-size:47px");
</script></body></html>
